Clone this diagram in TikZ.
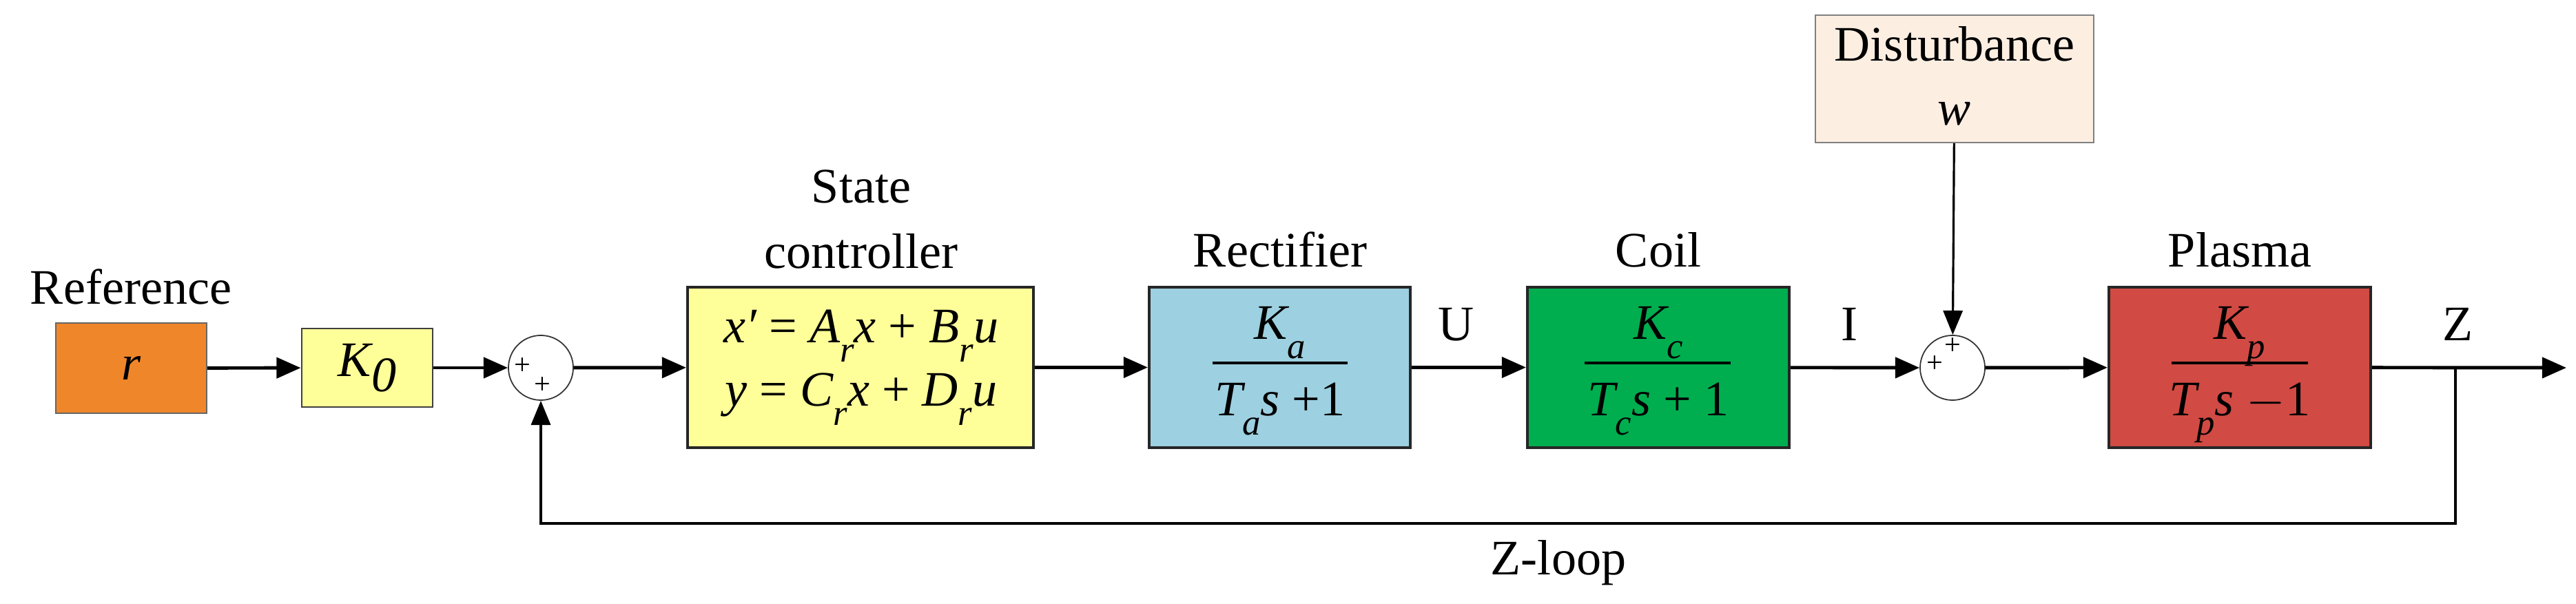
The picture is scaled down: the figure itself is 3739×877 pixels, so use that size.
\documentclass[tikz,border=0pt]{standalone}
\usepackage{fontspec}
\setmainfont{Liberation Serif}
\usetikzlibrary{arrows.meta,shapes.geometric}
\newcommand\lsub[1]{\raisebox{-0.38em}{\fontsize{15}{15}\selectfont\itshape #1}}
\begin{document}
\begin{tikzpicture}[x=0.01cm,y=-0.01cm,
  every node/.style={font=\fontsize{20.5}{24}\selectfont, inner sep=0pt},
  blk/.style={draw=black!85, line width=1.1pt, rectangle, minimum width=#1, minimum height=2.33cm},
  sum/.style={draw=black!80, line width=0.5pt, ellipse, fill=white, minimum width=0.94cm, minimum height=0.94cm},
  sig/.style={line width=1.4pt, -{Triangle[length=10pt,width=8.5pt]}},
  fb/.style={line width=0.9pt, -{Triangle[length=10pt,width=8pt]}},
  pm/.style={font=\fontsize{12}{12}\selectfont},
  lbl/.style={anchor=base}]
\useasboundingbox (0,0) rectangle (3739,877);
% blocks
\node[draw=black!60, line width=0.6pt, fill={rgb,255:red,240;green,134;blue,42}, minimum width=2.19cm, minimum height=1.31cm] (r) at (190.5,534.5) {\itshape r};
\node[draw=black!75, line width=0.8pt, fill={rgb,255:red,255;green,255;blue,153}, minimum width=1.9cm, minimum height=1.14cm] (k0) at (533,534) {\itshape K\raisebox{-0.3em}{0}};
\node[sum] (s1) at (785,534) {};
\node[blk=5.02cm, fill={rgb,255:red,255;green,255;blue,153}] (ctrl) at (1249,533.5) {};
\node[blk=3.79cm, fill={rgb,255:red,157;green,208;blue,224}] (rect) at (1857.5,533.5) {};
\node[blk=3.8cm, fill={rgb,255:red,0;green,174;blue,79}] (coil) at (2407,533.5) {};
\node[sum] (s2) at (2834,534) {};
\node[blk=3.8cm, fill={rgb,255:red,209;green,74;blue,67}] (pl) at (3251,533.5) {};
\node[draw=black!50, line width=0.6pt, fill={rgb,255:red,253;green,238;blue,226}, minimum width=4.04cm, minimum height=1.85cm] (dist) at (2837,114.5) {};
% labels
\node[lbl] (tref) at (190,442) {Reference};
\node[lbl] (tstate) at (1250,295) {State};
\node[lbl] (tctrl) at (1250,390) {controller};
\node[lbl] (trect) at (1858,388) {Rectifier};
\node[lbl] (tcoil) at (2407,388) {Coil};
\node[lbl] (tpl) at (3251,388) {Plasma};
\node[lbl] (tdist) at (2837,89) {Disturbance};
\node[lbl] (tw) at (2837,182) {\itshape w};
\node[lbl] (tU) at (2114,495) {U};
\node[lbl] (tI) at (2684,495) {I};
\node[lbl] (tZ) at (3567,495) {Z};
\node[lbl] (tzl) at (2262,835) {Z-loop};
% state equations
\node[lbl] (eq1) at (1250,498) {\itshape x\char"2032\upshape{} = \itshape A\lsub{r}x \upshape+ \itshape B\lsub{r}u};
\node[lbl] (eq2) at (1250,590) {\itshape y \upshape= \itshape C\lsub{r}x \upshape+ \itshape D\lsub{r}u};
% fractions
\node[lbl] (na) at (1858,493) {\itshape K\lsub{a}};
\node[lbl] (da) at (1858,604) {\itshape T\lsub{a}s \upshape+1};
\node[lbl] (nc) at (2407,493) {\itshape K\lsub{c}};
\node[lbl] (dc) at (2407,604) {\itshape T\lsub{c}s \upshape+ 1};
\node[lbl] (np) at (3251,493) {\itshape K\lsub{p}};
\node[lbl] (dp) at (3251,604) {\itshape T\lsub{p}s \upshape$-$1};
\draw[line width=1.2pt] (1760,527) -- (1956,527);
\draw[line width=1.2pt] (2300,527) -- (2512,527);
\draw[line width=1.2pt] (3152,527) -- (3350,527);
% sum signs
\node[pm] (p1a) at (758,532) {+};
\node[pm] (p1b) at (787,560) {+};
\node[pm] (p2a) at (2808,529) {+};
\node[pm] (p2b) at (2834,503) {+};
% connectors
\draw[sig] (r) -- (k0);
\draw[sig] (k0) -- (s1);
\draw[sig] (s1) -- (ctrl);
\draw[sig] (ctrl) -- (rect);
\draw[sig] (rect) -- (coil);
\draw[sig] (coil) -- (s2);
\draw[sig] (s2) -- (pl);
\coordinate (out) at (3725,534);
\coordinate (br) at (3564,534);
\draw[sig] (pl) -- (out);
\draw[fb] (br) -- (3564,760) -| (s1.south);
\draw[fb] (dist) -- (s2);
\end{tikzpicture}
\end{document}
